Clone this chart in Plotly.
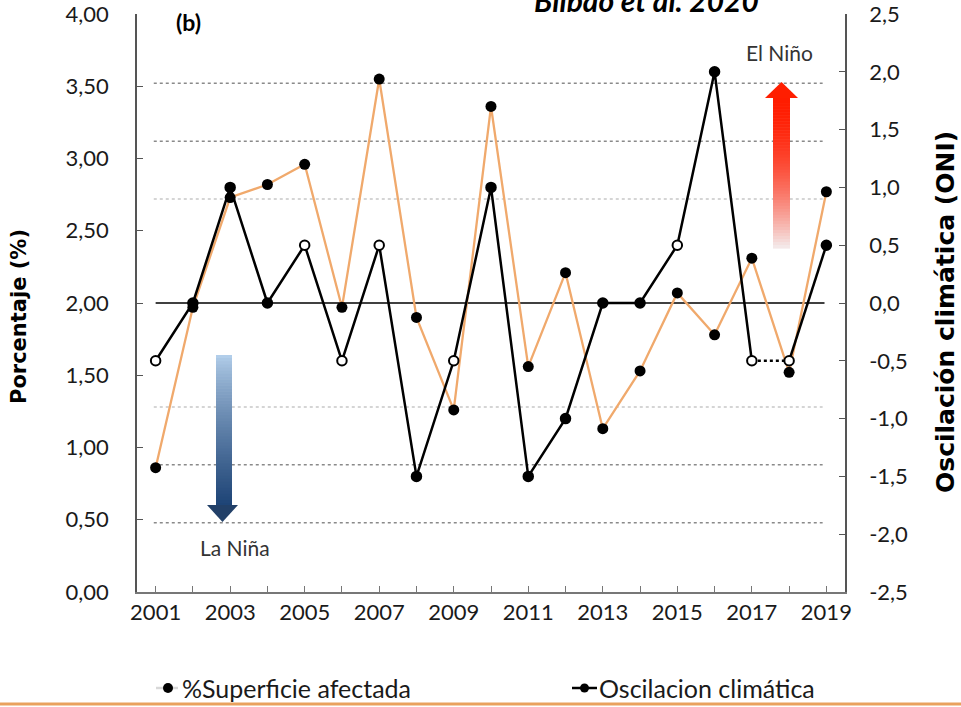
import plotly.graph_objects as go

# ---------------- data ----------------
years = list(range(2001, 2020))
superficie = [0.86, 1.97, 2.73, 2.82, 2.96, 1.97, 3.55, 1.90, 1.26, 3.36,
              1.56, 2.21, 1.13, 1.53, 2.07, 1.78, 2.31, 1.52, 2.77]
oni = [-0.5, 0.0, 1.0, 0.0, 0.5, -0.5, 0.5, -1.5, -0.5, 1.0,
       -1.5, -1.0, 0.0, 0.0, 0.5, 2.0, -0.5, -0.5, 0.5]
oni_hollow = [True, False, False, False, True, True, True, False, True, False,
              False, False, False, False, True, False, True, True, False]
left_ticks = [0, 0.5, 1.0, 1.5, 2.0, 2.5, 3.0, 3.5, 4.0]
left_labels = ["0,00", "0,50", "1,00", "1,50", "2,00", "2,50", "3,00", "3,50", "4,00"]
right_ticks = [-2.5, -2.0, -1.5, -1.0, -0.5, 0.0, 0.5, 1.0, 1.5, 2.0, 2.5]
right_labels = ["-2,5", "-2,0", "-1,5", "-1,0", "-0,5", "0,0", "0,5", "1,0", "1,5", "2,0", "2,5"]
x_labels = [str(y) if (y - 2001) % 2 == 0 else "" for y in years]
thresholds_strong = [1.9, 1.4, -1.4, -1.9]
thresholds_weak = [0.9, -0.9]
series_names = ["%Superficie afectada", "Oscilacion climática"]

# ---------------- layout geometry (pixels) ----------------
W, H = 961, 707
L, R, T, B = 137, 845, 14, 592

def px(xp):
    return (xp - L) / (R - L)

def py(yp):
    return (B - yp) / (B - T)

FONT = "Lato"
TITLE_FONT = "DejaVu Sans"
ORANGE = "#F0A96C"

fig = go.Figure()

# orange series (left axis)
fig.add_trace(go.Scatter(
    x=years, y=superficie, mode="lines+markers", name=series_names[0],
    line=dict(color=ORANGE, width=2.3),
    marker=dict(color="black", size=11),
    yaxis="y", showlegend=False))

# ONI series (right axis): solid parts + dotted 2017-2018 segment
i17 = years.index(2017)
fig.add_trace(go.Scatter(
    x=years[:i17 + 1], y=oni[:i17 + 1], mode="lines", name=series_names[1],
    line=dict(color="black", width=2.5), yaxis="y2", showlegend=False))
fig.add_trace(go.Scatter(
    x=years[i17:i17 + 2], y=oni[i17:i17 + 2], mode="lines",
    line=dict(color="black", width=2.5, dash="dot"), yaxis="y2", showlegend=False))
fig.add_trace(go.Scatter(
    x=years[i17 + 1:], y=oni[i17 + 1:], mode="lines",
    line=dict(color="black", width=2.5), yaxis="y2", showlegend=False))
fig.add_trace(go.Scatter(
    x=years, y=oni, mode="markers",
    marker=dict(color=["white" if h else "black" for h in oni_hollow], size=9.5,
                line=dict(color="black", width=2)),
    yaxis="y2", showlegend=False))

shapes = []
# threshold dotted lines
for v in thresholds_strong:
    shapes.append(dict(type="line", xref="x", yref="y2", x0=2000.95, x1=2018.9, y0=v, y1=v,
                       line=dict(color="#8a8a8a", width=1.5, dash="dot"), layer="below"))
for v in thresholds_weak:
    shapes.append(dict(type="line", xref="x", yref="y2", x0=2000.95, x1=2018.9, y0=v, y1=v,
                       line=dict(color="#c8c8c8", width=1.5, dash="dot"), layer="below"))
# zero line
shapes.append(dict(type="line", xref="x", yref="y2", x0=2001, x1=2018.95, y0=0, y1=0,
                   line=dict(color="black", width=1.3), layer="below"))

def lerp(c1, c2, t):
    return "rgb(%d,%d,%d)" % tuple(round(a + (b - a) * t) for a, b in zip(c1, c2))

# red (El Niño) arrow
N = 50
x0r, x1r, ytop, ybot = 773, 790, 97, 248
for i in range(N):
    t = i / (N - 1)
    y0 = ytop + (ybot - ytop) * i / N
    y1 = ytop + (ybot - ytop) * (i + 1) / N + 0.6
    shapes.append(dict(type="rect", xref="paper", yref="paper",
                       x0=px(x0r), x1=px(x1r), y0=py(y0), y1=py(y1),
                       fillcolor=lerp((255, 28, 0), (244, 232, 232), t ** 1.8),
                       line=dict(width=0)))
shapes.append(dict(type="path", xref="paper", yref="paper",
                   path="M %f %f L %f %f L %f %f Z" % (px(765), py(98), px(798), py(98), px(781.5), py(82)),
                   fillcolor="rgb(255,30,0)", line=dict(width=0)))

# blue (La Niña) arrow
x0b, x1b, ytop, ybot = 216, 232, 355, 506
for i in range(N):
    t = i / (N - 1)
    y0 = ytop + (ybot - ytop) * i / N
    y1 = ytop + (ybot - ytop) * (i + 1) / N + 0.6
    shapes.append(dict(type="rect", xref="paper", yref="paper",
                       x0=px(x0b), x1=px(x1b), y0=py(y0), y1=py(y1),
                       fillcolor=lerp((178, 206, 234), (30, 68, 118), t ** 0.8),
                       line=dict(width=0)))
shapes.append(dict(type="path", xref="paper", yref="paper",
                   path="M %f %f L %f %f L %f %f Z" % (px(207), py(505), px(238), py(505), px(222.5), py(522)),
                   fillcolor="rgb(34,64,104)", line=dict(width=0)))

# manual legend symbols
LEG_Y = 688
shapes.append(dict(type="line", xref="paper", yref="paper", x0=px(156), x1=px(178), y0=py(LEG_Y), y1=py(LEG_Y),
                   line=dict(color="#d8d8d8", width=2.5)))
shapes.append(dict(type="circle", xref="paper", yref="paper", x0=px(163), x1=px(173),
                   y0=py(LEG_Y - 5), y1=py(LEG_Y + 5), fillcolor="black", line=dict(width=0)))
shapes.append(dict(type="line", xref="paper", yref="paper", x0=px(572), x1=px(597), y0=py(LEG_Y), y1=py(LEG_Y),
                   line=dict(color="black", width=2.5)))
shapes.append(dict(type="circle", xref="paper", yref="paper", x0=px(580), x1=px(589),
                   y0=py(LEG_Y - 4.5), y1=py(LEG_Y + 4.5), fillcolor="black", line=dict(width=0)))

# bottom orange rule
shapes.append(dict(type="line", xref="paper", yref="paper", x0=px(0), x1=px(W), y0=py(704), y1=py(704),
                   line=dict(color="#E9A15E", width=3)))

annotations = [
    dict(text="<b><i>Bilbao et al. 2020</i></b>", xref="paper", yref="paper", x=px(646), y=py(0),
         showarrow=False, font=dict(family=FONT, size=30, color="black"), xanchor="center", yanchor="middle"),
    dict(text="<b>(b)</b>", xref="paper", yref="paper", x=px(188), y=py(22),
         showarrow=False, font=dict(family=FONT, size=23, color="black"), xanchor="center", yanchor="middle"),
    dict(text="El Niño", xref="paper", yref="paper", x=px(779), y=py(52),
         showarrow=False, font=dict(family=FONT, size=21, color="#333"), xanchor="center", yanchor="middle"),
    dict(text="La Niña", xref="paper", yref="paper", x=px(235), y=py(547),
         showarrow=False, font=dict(family=FONT, size=21, color="#333"), xanchor="center", yanchor="middle"),
    dict(text="<b>Porcentaje (%)</b>", xref="paper", yref="paper", x=px(19), y=py(317), textangle=-90,
         showarrow=False, font=dict(family=TITLE_FONT, size=21, color="black"), xanchor="center", yanchor="middle"),
    dict(text="<b>Oscilación climática (ONI)</b>", xref="paper", yref="paper", x=px(945), y=py(312), textangle=-90,
         showarrow=False, font=dict(family=TITLE_FONT, size=25, color="black"), xanchor="center", yanchor="middle"),
    dict(text=series_names[0], xref="paper", yref="paper", x=px(180), y=py(LEG_Y),
         showarrow=False, font=dict(family=FONT, size=25, color="#1a1a1a"), xanchor="left", yanchor="middle"),
    dict(text=series_names[1], xref="paper", yref="paper", x=px(597), y=py(LEG_Y),
         showarrow=False, font=dict(family=FONT, size=25, color="#1a1a1a"), xanchor="left", yanchor="middle"),
]

fig.update_layout(
    width=W, height=H,
    margin=dict(l=L, r=W - R, t=T, b=H - B, pad=0, autoexpand=False),
    paper_bgcolor="white", plot_bgcolor="white",
    font=dict(family=FONT, size=22, color="#1a1a1a"),
    separators=",.",
    showlegend=False,
    xaxis=dict(range=[2000.5, 2019.5], tickvals=years, ticktext=x_labels, automargin=False,
               ticks="inside", ticklen=6, tickcolor="#777", showline=True, linecolor="#777", linewidth=1.5,
               showgrid=False, zeroline=False, tickfont=dict(size=22), ticklabelstandoff=0,
               ticklabeloverflow="allow"),
    yaxis=dict(range=[0, 4], tickvals=left_ticks, ticktext=left_labels, automargin=False,
               ticks="inside", ticklen=6, tickcolor="#555", showline=True, linecolor="#555", linewidth=1.5,
               showgrid=False, zeroline=False, tickfont=dict(size=22), ticklabelstandoff=22,
               ticklabeloverflow="allow"),
    yaxis2=dict(range=[-2.5, 2.5], tickvals=right_ticks, ticktext=right_labels, overlaying="y", side="right",
                automargin=False,
                ticks="inside", ticklen=6, tickcolor="#555", showline=True, linecolor="#555", linewidth=1.5,
                showgrid=False, zeroline=False, tickfont=dict(size=22), ticklabelstandoff=18,
                ticklabeloverflow="allow"),
    shapes=shapes,
    annotations=annotations,
)

fig.write_html("out.html", config={"displayModeBar": False},
               post_script="document.body.style.margin='0';")
